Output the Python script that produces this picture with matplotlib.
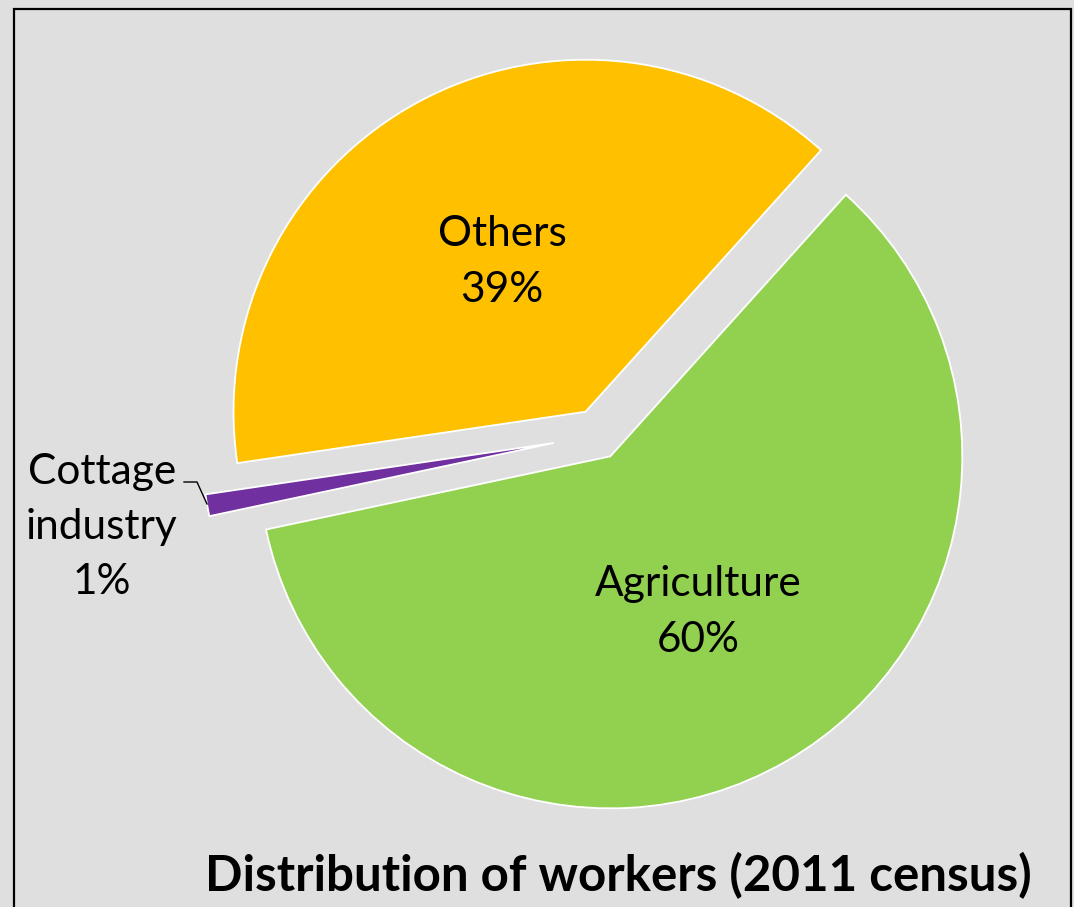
"""
Distribution of workers (2011 census) - exploded pie chart.
"""

import matplotlib.pyplot as plt
from matplotlib.patches import Rectangle

# data
CATEGORIES = ["Agriculture", "Cottage\nindustry", "Others"]
SHARES = [60, 1, 39]
COLORS = ["#92D050", "#7030A0", "#FFC000"]
EXPLODE = [0.07, 0.128, 0.075]   # fraction of radius
TITLE = "Distribution of workers (2011 census)"

W, H = 1074, 907          # canvas in pixels, y measured upward
RADIUS = 352
BG = "#DFDFDF"
FONT = "Lato"


def main():
    fig = plt.figure(figsize=(W / 100, H / 100), dpi=100, facecolor=BG)
    ax = fig.add_axes([0, 0, 1, 1])
    ax.set_facecolor(BG)

    # matplotlib's explode is absolute, so scale it by the radius
    ax.pie(SHARES, colors=COLORS, explode=[e * RADIUS for e in EXPLODE],
           startangle=48, counterclock=False,
           center=(598, H - 435), radius=RADIUS,
           wedgeprops=dict(edgecolor="white", linewidth=1.3))

    ax.set_xlim(0, W)
    ax.set_ylim(0, H)
    ax.set_aspect("equal")
    ax.axis("off")

    # chart frame
    ax.add_patch(Rectangle((14, -20), 1057, H - 9 + 20, fill=False,
                           edgecolor="black", linewidth=1.6, zorder=5))

    labels = [f"{c}\n{s}%" for c, s in zip(CATEGORIES, SHARES)]
    txt = dict(ha="center", va="center", fontsize=30.5, family=FONT,
               linespacing=1.55, color="black")
    ax.text(698, H - 612, labels[0], **txt)
    ax.text(102, H - 527, labels[1], **txt)
    ax.text(502, H - 262, labels[2], **txt)

    # leader line for the thin slice
    ax.plot([184, 197, 207], [H - 482, H - 482, H - 504],
            color="black", linewidth=1.0)

    ax.text(618, H - 876, TITLE, ha="center", va="center",
            fontsize=35.5, fontweight="bold", family=FONT)

    fig.savefig("out.png", dpi=100, facecolor=BG)


if __name__ == "__main__":
    main()
